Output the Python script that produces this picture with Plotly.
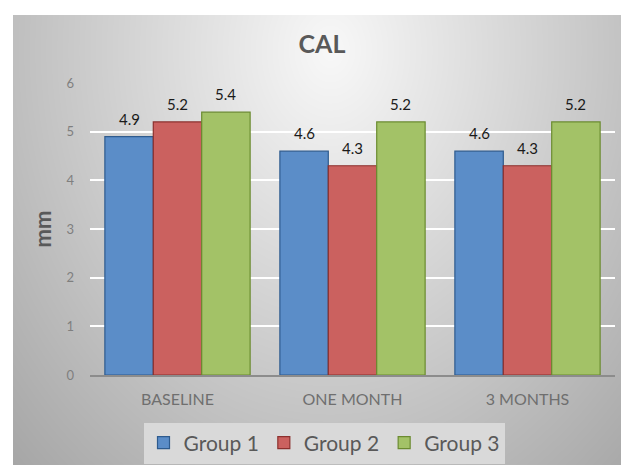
import math, zlib, struct, base64
import plotly.graph_objects as go

# ---- data ----
categories = ["BASELINE", "ONE MONTH", "3 MONTHS"]
group1 = [4.9, 4.6, 4.6]
group2 = [5.2, 4.3, 4.3]
group3 = [5.4, 5.2, 5.2]
series_names = ["Group 1", "Group 2", "Group 3"]
y_ticks = [0, 1, 2, 3, 4, 5, 6]

# ---- style ----
W, H = 621, 465
ML, MR, MT, MB = 90, 6, 83, 90
BARGAP = 0.17
fills = ["#5b8dc8", "#cb615f", "#a3c267"]
lines = ["#2e5b8e", "#8c302e", "#6b8b30"]
FONT = "Lato"


def make_bg_png(w, h):
    cx, cy = 330.0, 50.0
    rows = bytearray()
    for y in range(h):
        rows.append(0)
        for x in range(w):
            if x < 13 or y < 15:
                rows.append(255)
            else:
                dx = (x - cx) / 320.0
                dy = (y - cy) / 410.0
                r = math.sqrt(dx * dx + dy * dy)
                v = 248 - 58 * r
                v = max(150, min(250, v))
                rows.append(int(round(v)))

    def chunk(t, d):
        c = struct.pack(">I", len(d)) + t + d
        return c + struct.pack(">I", zlib.crc32(t + d) & 0xFFFFFFFF)

    png = (b"\x89PNG\r\n\x1a\n"
           + chunk(b"IHDR", struct.pack(">IIBBBBB", w, h, 8, 0, 0, 0, 0))
           + chunk(b"IDAT", zlib.compress(bytes(rows), 9))
           + chunk(b"IEND", b""))
    return "data:image/png;base64," + base64.b64encode(png).decode()


bg = make_bg_png(W, H)
pw, ph = W - ML - MR, H - MT - MB
bar_px = pw / len(categories) * (1 - BARGAP) / 3

fig = go.Figure()
all_series = [group1, group2, group3]
for name, vals, fc, lc in zip(series_names, all_series, fills, lines):
    fig.add_trace(go.Bar(
        name=name, x=categories, y=vals,
        marker=dict(color=fc, line=dict(color=lc, width=1.2)),
    ))

# value labels above each bar
for i, vals in enumerate(all_series):
    for c, v in zip(categories, vals):
        fig.add_annotation(
            x=c, y=v, xref="x", yref="y", text=f"{v:.1f}", showarrow=False,
            xanchor="center", yanchor="bottom", xshift=(i - 1) * bar_px, yshift=7,
            font=dict(family=FONT, size=15, color="#1a1a1a"),
        )

fig.add_layout_image(dict(
    source=bg, xref="paper", yref="paper",
    x=-ML / pw, y=1 + MT / ph, sizex=W / pw, sizey=H / ph,
    xanchor="left", yanchor="top", sizing="stretch", layer="below",
))

fig.update_layout(
    width=W, height=H,
    margin=dict(l=ML, r=MR, t=MT, b=MB),
    paper_bgcolor="white", plot_bgcolor="rgba(0,0,0,0)",
    barmode="group", bargap=BARGAP, bargroupgap=0,
    title=dict(text="<b>CAL</b>", x=322 / W, xanchor="center",
               y=1 - 44 / H, yanchor="middle", yref="container",
               font=dict(family=FONT, size=25, color="#595959")),
    font=dict(family=FONT),
    showlegend=True,
    legend=dict(orientation="h", xref="container", yref="container",
                x=324 / W, xanchor="center", y=1 - 443 / H, yanchor="middle",
                bgcolor="#d9d9d9", font=dict(family=FONT, size=21, color="#595959"),
                traceorder="normal"),
    xaxis=dict(showgrid=False, showline=True, linecolor="#8c8c8c", linewidth=1.5,
               ticks="", tickfont=dict(family=FONT, size=16, color="#6f6f6f"),
               ticklabelstandoff=9),
    yaxis=dict(range=[0, 6], tickvals=y_ticks, showgrid=True, gridcolor="white",
               gridwidth=1.5, zeroline=False, showline=False, ticks="",
               tickfont=dict(family=FONT, size=13, color="#7f7f7f"),
               ticklabelstandoff=15,
               title=dict(text="<b>mm</b>", standoff=8,
                          font=dict(family=FONT, size=22, color="#595959"))),
)

fig.write_html("out.html")
